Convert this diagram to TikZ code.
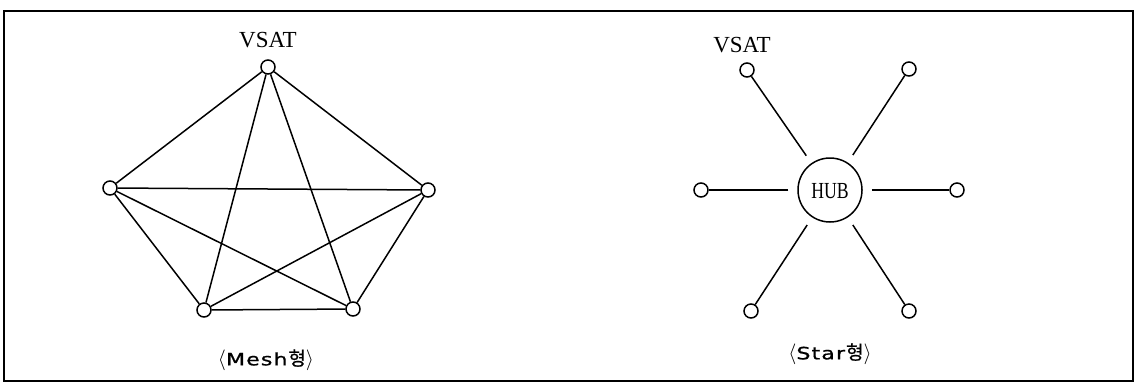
\documentclass[tikz,border=0pt]{standalone}
\usepackage{fontspec}
\setmainfont{Liberation Serif}
\newfontfamily\kr[FakeBold=0.8]{Noto Sans CJK KR}
\newfontfamily\lat[FakeBold=0.8,LetterSpace=5]{DejaVu Sans}
\newcommand{\capword}[1]{{\fontsize{21}{21}\selectfont$\langle$}\scalebox{1.3}[1]{\fontsize{17}{17}\selectfont\lat #1}\kern1pt{\kr\fontsize{19}{19}\selectfont 형}{\fontsize{21}{21}\selectfont$\rangle$}}
\begin{document}
\begin{tikzpicture}[x=1pt,y=-1pt,
  vsat/.style={circle,draw,line width=1.5pt,fill=white,minimum size=14pt,inner sep=0pt},
  link/.style={line width=1.5pt},
  lbl/.style={font=\fontsize{23}{23}\selectfont,inner sep=0pt},
  captext/.style={inner sep=0pt}]
\useasboundingbox (0,0) rectangle (1142,384);
\node[draw,line width=2pt,minimum width=1129pt,minimum height=370pt,inner sep=0pt] (frame) at (568.5,196) {};
% Mesh
\node[vsat] (t) at (268,67) {};
\node[vsat] (l) at (110,188) {};
\node[vsat] (r) at (428,190) {};
\node[vsat] (bl) at (204,310) {};
\node[vsat] (br) at (353,309) {};
\foreach \a/\b in {t/l,t/r,t/bl,t/br,l/r,l/bl,l/br,r/bl,r/br,bl/br}
  \draw[link] (\a) -- (\b);
\node[lbl,anchor=base] (v1) at (268,47) {VSAT};
\node[captext] (c1) at (266,360) {\capword{Mesh}};
% Star
\node[circle,draw,line width=1.5pt,minimum size=64pt,inner sep=0pt] (hub) at (830,190) {};
\node[lbl,xscale=0.77] (hubt) at (830,191) {HUB};
\node[vsat] (s1) at (747,70) {};
\node[vsat] (s2) at (909,69) {};
\node[vsat] (s3) at (701,190) {};
\node[vsat] (s4) at (957,190) {};
\node[vsat] (s5) at (751,311) {};
\node[vsat] (s6) at (909,311) {};
\foreach \n in {s1,s2,s3,s4,s5,s6}
  \draw[link,shorten <=9pt] (hub) -- (\n);
\node[lbl,anchor=base] (v2) at (742,52) {VSAT};
\node[captext] (c2) at (830,354) {\capword{Star}};
\end{tikzpicture}
\end{document}
